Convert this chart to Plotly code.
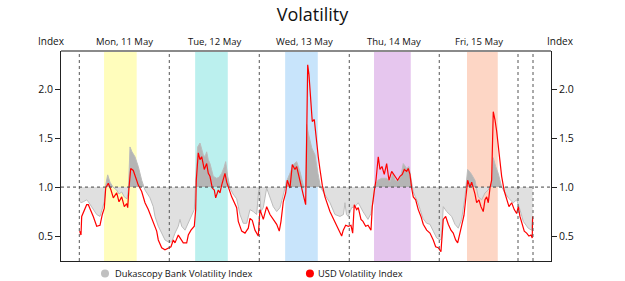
import numpy as np
import pandas as pd
import plotly.graph_objects as go

# ---------------- data (hours from Mon 11 May 2020 00:00) ----------------
usd_hours = [0.1, 0.45, 0.64, 1.07, 1.97, 2.4, 3.31, 3.73, 4.64, 5.52, 6.13, 6.67, 7.04, 7.73, 8.45,
             9.07, 9.97, 10.59, 11.31, 12.0, 12.64, 12.91, 13.25, 13.71, 14.4, 15.12, 15.73, 16.64,
             17.52, 18.4, 19.73, 20.64, 21.07, 21.97, 22.85, 23.73, 24.45, 25.07, 25.52, 26.4, 27.12,
             27.73, 28.64, 29.07, 29.79, 30.67, 31.04, 31.2, 31.73, 32.19, 32.64, 33.33, 33.97, 34.4,
             34.85, 35.47, 36.0, 36.37, 37.07, 37.52, 37.97, 38.4, 38.85, 39.31, 39.73, 40.64, 41.97,
             42.4, 43.31, 44.19, 45.07, 45.52, 46.13, 46.85, 47.73, 48.19, 49.07, 49.97, 50.85, 51.73,
             52.64, 53.33, 53.79, 54.4, 55.04, 55.47, 56.19, 56.8, 57.52, 57.97, 58.59, 59.31, 59.73,
             60.37, 60.64, 60.91, 61.25, 61.79, 62.13, 62.67, 62.85, 63.31, 63.73, 64.19, 64.8, 65.52,
             66.24, 66.85, 67.73, 68.64, 69.25, 69.97, 70.4, 71.04, 71.73, 72.45, 72.91, 73.33, 73.97,
             74.4, 75.12, 75.65, 76.37, 76.99, 77.79, 78.13, 78.67, 79.12, 79.73, 80.19, 80.72, 81.33,
             81.97, 82.59, 83.31, 84.19, 84.9, 85.52, 86.13, 86.67, 87.31, 87.73, 88.19, 88.64, 89.07,
             89.71, 90.4, 91.12, 91.73, 92.64, 93.52, 94.4, 95.04, 95.73, 96.45, 97.07, 97.71, 98.4,
             99.12, 99.73, 100.37, 100.91, 101.52, 101.97, 102.59, 103.04, 103.57, 104.19, 104.64,
             105.52, 105.97, 106.59, 107.12, 107.73, 108.19, 108.64, 109.07, 109.52, 109.97, 110.4,
             110.85, 111.31, 111.73, 112.19, 112.64, 113.33, 113.97, 114.59, 115.31, 116.0, 116.64,
             117.07, 117.52, 117.97, 118.67, 119.31, 119.92, 120.45, 120.8, 120.9]
usd_values = [0.55, 0.51, 0.70, 0.735, 0.82, 0.82, 0.74, 0.70, 0.60, 0.61, 0.72, 0.785, 0.99, 1.04, 0.97,
              0.89, 0.94, 0.85, 0.90, 0.80, 0.83, 0.79, 0.99, 1.19, 1.17, 1.09, 1.02, 0.955,
              0.84, 0.77, 0.63, 0.55, 0.46, 0.38, 0.36, 0.38, 0.39, 0.46, 0.43, 0.51, 0.46,
              0.43, 0.43, 0.51, 0.56, 0.60, 0.77, 1.07, 1.35, 1.28, 1.31, 1.18, 1.24, 1.14,
              1.11, 0.99, 0.97, 0.89, 0.97, 0.94, 1.02, 1.09, 1.14, 1.05, 1.0, 0.90, 0.79,
              0.65, 0.55, 0.53, 0.58, 0.68, 0.66, 0.56, 0.50, 0.77, 0.67, 0.80, 0.72, 0.67,
              0.62, 0.55, 0.65, 0.85, 0.94, 1.07, 0.99, 1.23, 1.18, 1.21, 1.12, 0.99, 0.92,
              0.82, 1.50, 2.25, 2.15, 1.77, 1.67, 1.69, 1.62, 1.48, 1.31, 1.18, 1.02, 0.90,
              0.82, 0.75, 0.68, 0.60, 0.56, 0.50, 0.56, 0.61, 0.60, 0.61, 0.53, 0.82, 0.77,
              0.79, 0.67, 0.65, 0.60, 0.61, 0.56, 0.80, 0.96, 1.07, 1.31, 1.18, 1.21, 1.13,
              1.24, 1.07, 1.16, 1.11, 1.07, 1.11, 1.13, 1.18, 1.16, 1.19, 1.13, 0.99, 0.90,
              0.87, 0.77, 0.70, 0.62, 0.56, 0.53, 0.46, 0.39, 0.38, 0.34, 0.67, 0.70, 0.62,
              0.56, 0.53, 0.46, 0.43, 0.53, 0.59, 0.71, 0.87, 1.07, 1.0, 1.05,
              0.93, 0.84, 0.87, 0.80, 0.75, 0.87, 0.90, 0.84, 0.99, 1.07, 1.77,
              1.69, 1.57, 1.41, 1.28, 1.11, 0.96, 0.89, 0.80, 0.84, 0.77, 0.73,
              0.80, 0.70, 0.63, 0.55, 0.53, 0.50, 0.51, 0.48, 0.70]

duka_hours = [0.0, 0.45, 1.07, 1.97, 2.4, 3.31, 3.73, 4.64, 5.52, 6.13, 6.67, 7.04, 7.57, 8.19, 9.0,
              9.97, 10.59, 11.31, 12.0, 12.72, 13.12, 13.52, 14.05, 14.85, 15.73, 16.64, 17.52, 18.85,
              19.73, 20.19, 21.07, 21.97, 22.85, 23.73, 24.64, 25.52, 26.4, 26.85, 27.31, 28.19, 29.07,
              29.97, 30.67, 31.04, 31.57, 32.19, 32.64, 33.07, 33.52, 33.97, 34.4, 34.85, 35.73, 36.64,
              37.25, 37.97, 38.59, 39.04, 39.57, 40.19, 40.99, 41.97, 42.85, 43.73, 44.64, 45.52, 46.4,
              47.31, 47.79, 48.05, 48.45, 49.07, 49.97, 50.85, 51.73, 52.64, 53.52, 54.4, 55.29, 56.19,
              57.07, 57.97, 58.85, 59.73, 60.32, 60.64, 61.07, 62.0, 62.85, 63.65, 64.32, 65.52, 66.85,
              68.19, 69.52, 70.45, 70.85, 71.25, 71.73, 72.64, 73.52, 74.4, 75.65, 76.99, 77.79, 78.45,
              78.85, 79.65, 80.64, 81.97, 82.85, 83.65, 84.19, 85.07, 85.79, 86.4, 87.31, 87.92, 88.45,
              89.07, 90.32, 91.65, 92.64, 93.52, 94.4, 95.31, 96.19, 96.59, 97.07, 97.97, 99.31, 100.19,
              101.07, 101.97, 102.85, 103.57, 104.45, 105.52, 106.4, 107.31, 108.19, 109.07, 109.97,
              110.4, 111.04, 111.73, 112.64, 113.52, 114.4, 115.73, 116.64, 117.52, 118.4, 119.73,
              120.64, 120.9]
duka_values = [0.86, 0.84, 0.85, 0.87, 0.85, 0.80, 0.77, 0.72, 0.70, 0.78, 0.85, 1.02, 1.125, 1.05, 1.0,
               0.97, 0.93, 0.95, 0.90, 0.88, 0.98, 1.41, 1.36, 1.31, 1.21, 1.07, 0.97, 0.89,
               0.80, 0.70, 0.60, 0.53, 0.46, 0.44, 0.44, 0.53, 0.60, 0.67, 0.60, 0.56, 0.63,
               0.70, 0.77, 1.07, 1.41, 1.45, 1.38, 1.33, 1.31, 1.36, 1.28, 1.24, 1.11, 1.09,
               1.10, 1.14, 1.20, 1.26, 1.11, 0.99, 0.93, 0.88, 0.72, 0.63, 0.63, 0.77, 0.75,
               0.72, 0.95, 0.99, 0.75, 0.79, 0.99, 0.89, 0.80, 0.75, 0.79, 0.92, 1.06, 1.14,
               1.23, 1.26, 1.16, 1.02, 0.99, 1.64, 1.55, 1.40, 1.33, 1.14, 1.0, 0.92, 0.84,
               0.72, 0.70, 0.72, 0.84, 0.72, 0.70, 0.79, 0.80, 0.84, 0.75, 0.67, 0.73, 0.87,
               1.02, 1.07, 1.09, 1.09, 1.05, 1.14, 1.07, 1.06, 1.12, 1.24, 1.19, 1.21, 1.07,
               0.95, 0.84, 0.68, 0.63, 0.62, 0.55, 0.48, 0.46, 0.47, 0.80, 0.75, 0.70, 0.62,
               0.58, 0.67, 0.90, 1.18, 1.14, 1.07, 0.90, 0.87, 0.94, 0.97, 1.04,
               1.30, 1.21, 1.14, 1.0, 0.94, 0.89, 0.84, 0.87, 0.77, 0.65, 0.58,
               0.56, 0.70]

reference_level = 1.0
day_labels = ["Mon, 11 May", "Tue, 12 May", "Wed, 13 May", "Thu, 14 May", "Fri, 15 May"]
day_label_hours = [12, 36, 60, 84, 106.6]
divider_hours = [0, 24, 48, 72, 96, 117, 121]
session_starts = [6.6, 30.9, 54.9, 78.6, 103.4]
session_ends = [15.3, 39.6, 63.6, 88.4, 111.6]
session_colors = ["#fffdbc", "#bbf0ee", "#c8e4fb", "#e6c6ee", "#fdd6c5"]
y_ticks = [0.5, 1.0, 1.5, 2.0]
series_names = ["Dukascopy Bank Volatility Index", "USD Volatility Index"]

START = pd.Timestamp("2020-05-11 00:00")


def t(h):
    return START + pd.to_timedelta(np.asarray(h, dtype=float), unit="h")


def split_at_level(h, v, level):
    xs, ys = [], []
    for i in range(len(h)):
        xs.append(h[i]); ys.append(v[i])
        if i < len(h) - 1 and (v[i] - level) * (v[i + 1] - level) < 0:
            f = (level - v[i]) / (v[i + 1] - v[i])
            xs.append(h[i] + f * (h[i + 1] - h[i])); ys.append(level)
    xs = np.array(xs); ys = np.array(ys)
    return xs, np.maximum(ys, level), np.minimum(ys, level)


xs, upper, lower = split_at_level(duka_hours, duka_values, reference_level)
base_x = t([xs[0], xs[-1]])

fig = go.Figure()
fig.add_trace(go.Scatter(x=base_x, y=[reference_level] * 2, mode="lines",
                         line=dict(width=0), showlegend=False, hoverinfo="skip"))
fig.add_trace(go.Scatter(x=t(xs), y=upper, mode="lines", fill="tonexty",
                         fillcolor="#b5b5b5", line=dict(width=0), showlegend=False))
fig.add_trace(go.Scatter(x=base_x, y=[reference_level] * 2, mode="lines",
                         line=dict(width=0), showlegend=False, hoverinfo="skip"))
fig.add_trace(go.Scatter(x=t(xs), y=lower, mode="lines", fill="tonexty",
                         fillcolor="#e0e0e0", line=dict(width=0), showlegend=False))
fig.add_trace(go.Scatter(x=t(duka_hours), y=duka_values, mode="lines", name=series_names[0],
                         line=dict(color="#bcbcbc", width=1), showlegend=False))
fig.add_trace(go.Scatter(x=t(usd_hours), y=usd_values, mode="lines", name=series_names[1],
                         line=dict(color="#ff0000", width=1.2), showlegend=False))
fig.add_trace(go.Scatter(x=t(usd_hours[:1]), y=usd_values[:1], yaxis="y2", mode="markers",
                         marker=dict(opacity=0), showlegend=False, hoverinfo="skip"))

shapes = []
for s, e, c in zip(session_starts, session_ends, session_colors):
    shapes.append(dict(type="rect", xref="x", yref="paper", x0=t(s), x1=t(e), y0=0, y1=1,
                       fillcolor=c, line=dict(width=0), layer="below"))
for h in divider_hours:
    shapes.append(dict(type="line", xref="x", yref="paper", x0=t(h), x1=t(h), y0=0, y1=1,
                       line=dict(color="#555555", width=1, dash="dot"), layer="above"))
shapes.append(dict(type="line", xref="paper", yref="y", x0=0, x1=1, y0=reference_level,
                   y1=reference_level, line=dict(color="#444444", width=1, dash="dot"), layer="above"))
# grey top border of the plot area
shapes.append(dict(type="line", xref="paper", yref="paper", x0=0, x1=1, y0=1, y1=1,
                   line=dict(color="#8a8a8a", width=2), layer="above"))

FONT = "Open Sans"
annotations = []
for lab, h in zip(day_labels, day_label_hours):
    annotations.append(dict(text=lab, x=t(h), xref="x", y=1, yref="paper", yanchor="bottom",
                            xanchor="center", showarrow=False, yshift=1,
                            font=dict(size=9.5, color="#111111", family=FONT)))
annotations.append(dict(text="Index", x=-0.02, xref="paper", y=1, yref="paper", yanchor="bottom",
                        xanchor="center", showarrow=False, yshift=1,
                        font=dict(size=10, color="#111111", family=FONT)))
annotations.append(dict(text="Index", x=1.02, xref="paper", y=1, yref="paper", yanchor="bottom",
                        xanchor="center", showarrow=False, yshift=1,
                        font=dict(size=10, color="#111111", family=FONT)))

# legend drawn as circle + label
legend_items = [(series_names[0], "#c0c0c0", 0.0898, 0.106), (series_names[1], "#ff0000", 0.508, 0.520)]
for name, col, mx, tx in legend_items:
    shapes.append(dict(type="circle", xref="paper", yref="paper", xsizemode="pixel",
                       ysizemode="pixel", xanchor=mx, yanchor=-0.06, x0=-4, x1=4, y0=-4, y1=4,
                       fillcolor=col, line=dict(width=0)))
    annotations.append(dict(text=name, x=tx, xref="paper", y=-0.06, yref="paper",
                            xanchor="left", yanchor="middle", showarrow=False,
                            font=dict(size=9.3, color="#111111", family=FONT)))

yrange = [0.245, 2.39]
fig.update_layout(
    width=625, height=281,
    margin=dict(l=61, r=74, t=51, b=20),
    paper_bgcolor="white", plot_bgcolor="white",
    title=dict(text="Volatility", x=0.5, xanchor="center", y=1 - 15 / 281, yanchor="middle",
               yref="container", font=dict(size=18, color="#111111", family=FONT)),
    xaxis=dict(type="date", range=[t(-4.88), t(125.8)], showticklabels=False, ticks="",
               showgrid=False, zeroline=False, showline=True, linecolor="#222222", linewidth=1,
               mirror=False),
    yaxis=dict(range=yrange, tickvals=y_ticks, tickformat=".1f", ticks="outside", ticklen=5,
               tickcolor="#222222", showgrid=False, zeroline=False, showline=True,
               linecolor="#222222", linewidth=1, tickfont=dict(size=10.5, color="#111111", family=FONT)),
    yaxis2=dict(range=yrange, overlaying="y", side="right", tickvals=y_ticks, tickformat=".1f",
                ticks="outside", ticklen=5, tickcolor="#222222", showgrid=False, zeroline=False,
                showline=True, linecolor="#222222", linewidth=1,
                tickfont=dict(size=10.5, color="#111111", family=FONT)),
    shapes=shapes, annotations=annotations, showlegend=False,
)

fig.write_html("out.html")
